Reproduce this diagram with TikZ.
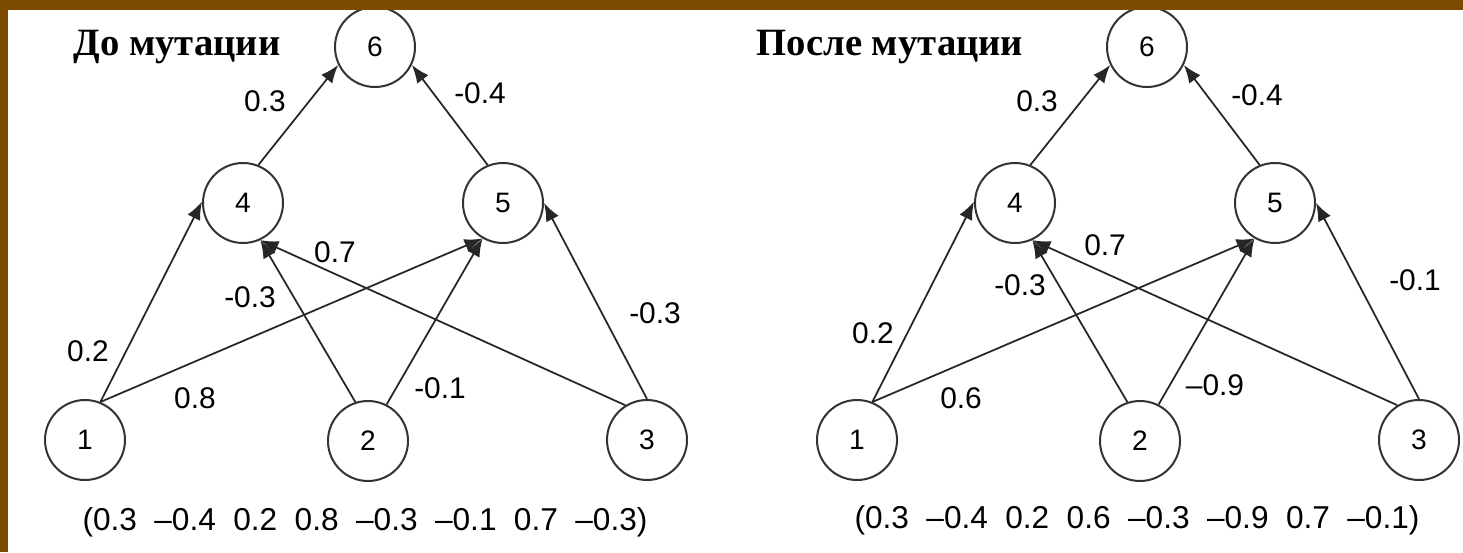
\documentclass[tikz,border=0pt]{standalone}
\usepackage{fontspec}
\setmainfont{Liberation Serif}
\setsansfont{Liberation Sans}
\usetikzlibrary{arrows.meta}
\definecolor{framebrown}{RGB}{125,75,0}

\begin{document}
\begin{tikzpicture}[x=0.2mm, y=-0.2mm, >={Latex[length=3.6mm,width=2.8mm]},
  neuron/.style={circle, draw=black!80, line width=0.4mm, minimum size=16mm, inner sep=0pt,
    font=\sffamily\fontsize{16}{16}\selectfont},
  link/.style={->, draw=black!85, line width=0.35mm},
  wlabel/.style={font=\sffamily\fontsize{17}{17}\selectfont},
  title/.style={font=\bfseries\fontsize{22}{22}\selectfont},
  chromo/.style={font=\sffamily\fontsize{18}{18}\selectfont}]
  \fill[white] (0,0) rectangle (1463,552);
  \useasboundingbox (0,0) rectangle (1463,552);
  % before mutation
  \node[title] (ta) at (177,47) {До мутации};
  \node[neuron] (a1) at (85,440) {1};
  \node[neuron] (a2) at (368,441) {2};
  \node[neuron] (a3) at (647,440) {3};
  \node[neuron] (a4) at (243,203) {4};
  \node[neuron] (a5) at (503,203) {5};
  \node[neuron] (a6) at (375,47) {6};
  \draw[link] (a4.68) -- (a6.206);
  \draw[link] (a5.112) -- (a6.334);
  \draw[link] (a1.68) -- (a4.178);
  \draw[link] (a1.68) -- (a5.240);
  \draw[link] (a2.108) -- (a4.295);
  \draw[link] (a2.63) -- (a5.240);
  \draw[link] (a3.122) -- (a4.295);
  \draw[link] (a3.90) -- (a5.0);
  \node[wlabel] at (265,101) {0.3};
  \node[wlabel] at (480,93) {-0.4};
  \node[wlabel] at (88,351) {0.2};
  \node[wlabel] at (195,398) {0.8};
  \node[wlabel] at (250,297) {-0.3};
  \node[wlabel] at (335,252) {0.7};
  \node[wlabel] at (440,388) {-0.1};
  \node[wlabel] at (655,313) {-0.3};
  \node[chromo] (va) at (365,522) {\spaceskip=0.55em (0.3 –0.4 0.2 0.8 –0.3 –0.1 0.7 –0.3)};
  % after mutation
  \node[title] (tb) at (890,47) {После мутации};
  \node[neuron] (b1) at (857,440) {1};
  \node[neuron] (b2) at (1140,441) {2};
  \node[neuron] (b3) at (1419,440) {3};
  \node[neuron] (b4) at (1015,203) {4};
  \node[neuron] (b5) at (1275,203) {5};
  \node[neuron] (b6) at (1147,47) {6};
  \draw[link] (b4.68) -- (b6.206);
  \draw[link] (b5.112) -- (b6.334);
  \draw[link] (b1.68) -- (b4.178);
  \draw[link] (b1.68) -- (b5.240);
  \draw[link] (b2.108) -- (b4.295);
  \draw[link] (b2.63) -- (b5.240);
  \draw[link] (b3.122) -- (b4.295);
  \draw[link] (b3.90) -- (b5.0);
  \node[wlabel] at (1037,101) {0.3};
  \node[wlabel] at (1257,95) {-0.4};
  \node[wlabel] at (873,333) {0.2};
  \node[wlabel] at (961,398) {0.6};
  \node[wlabel] at (1020,285) {-0.3};
  \node[wlabel] at (1105,245) {0.7};
  \node[wlabel] at (1215,385) {–0.9};
  \node[wlabel] at (1415,280) {-0.1};
  \node[chromo] (vb) at (1137,520) {\spaceskip=0.55em (0.3 –0.4 0.2 0.6 –0.3 –0.9 0.7 –0.1)};
  % frame
  \fill[framebrown] (0,0) rectangle (1463,10);
  \fill[framebrown] (0,0) rectangle (8,552);
\end{tikzpicture}
\end{document}
